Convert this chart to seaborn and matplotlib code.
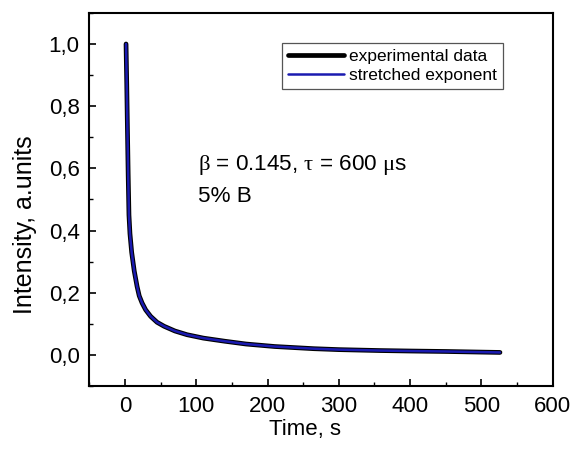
import matplotlib
matplotlib.use("Agg")
import matplotlib.pyplot as plt
import matplotlib.ticker as mticker
import seaborn as sns
import pandas as pd

time_s = [1.5, 2.5, 3.5, 4.5, 5.6, 7, 9.4, 13, 17, 20, 24, 29, 36, 45, 55, 70, 87,
          110, 140, 170, 210, 265, 300, 358, 400, 451, 500, 526]
experimental = [1.0, 0.87, 0.72, 0.58, 0.45, 0.39, 0.33, 0.27, 0.22, 0.19, 0.167, 0.145,
                0.124, 0.105, 0.092, 0.077, 0.065, 0.054, 0.044, 0.035, 0.027, 0.02,
                0.017, 0.014, 0.0125, 0.011, 0.009, 0.008]
stretched = [1.0, 0.87, 0.72, 0.58, 0.45, 0.39, 0.33, 0.27, 0.22, 0.19, 0.167, 0.145,
             0.124, 0.105, 0.092, 0.077, 0.065, 0.054, 0.044, 0.035, 0.027, 0.02,
             0.017, 0.014, 0.0125, 0.011, 0.009, 0.008]

sns.set_style("ticks")
plt.rcParams['font.family'] = ['Liberation Sans', 'DejaVu Sans']
plt.rcParams['text.color'] = 'black'
plt.rcParams['axes.labelcolor'] = 'black'
plt.rcParams['xtick.color'] = 'black'
plt.rcParams['ytick.color'] = 'black'
plt.rcParams['mathtext.fontset'] = 'custom'
plt.rcParams['mathtext.rm'] = 'Liberation Serif'
plt.rcParams['mathtext.it'] = 'Liberation Serif'
plt.rcParams['mathtext.bf'] = 'Liberation Serif'

df_exp = pd.DataFrame({"t": time_s, "I": experimental})
df_fit = pd.DataFrame({"t": time_s, "I": stretched})

fig = plt.figure(figsize=(5.7, 4.49), dpi=100)
ax = fig.add_axes([0.1567, 0.1403, 0.813, 0.831])

sns.lineplot(data=df_exp, x="t", y="I", ax=ax, color="black", lw=3.4,
             label="experimental data", sort=False)
sns.lineplot(data=df_fit, x="t", y="I", ax=ax, color="#1a1ab0", lw=1.8,
             label="stretched exponent", sort=False)

ax.set_xlim(-50, 600)
ax.set_ylim(-0.1, 1.1)
ax.xaxis.set_major_locator(mticker.MultipleLocator(100))
ax.xaxis.set_minor_locator(mticker.MultipleLocator(50))
ax.yaxis.set_major_locator(mticker.MultipleLocator(0.2))
ax.yaxis.set_minor_locator(mticker.MultipleLocator(0.1))
ax.yaxis.set_major_formatter(mticker.FuncFormatter(lambda v, p: f"{v:.1f}".replace(".", ",").replace("-0,0", "0,0")))
ax.tick_params(which="major", direction="in", length=5, width=1.2, labelsize=16, pad=7,
               colors="black")
ax.tick_params(which="minor", direction="in", length=3, width=1.0, colors="black")
for s in ax.spines.values():
    s.set_linewidth(1.5)
    s.set_color("black")

ax.set_xlabel("Time, s", fontsize=16)
ax.set_ylabel("Intensity, a.units", fontsize=18)
ax.xaxis.set_label_coords(0.4655, -0.088)
ax.yaxis.set_label_coords(-0.113, 0.432)

ax.text(102, 0.61, r"$\beta$ = 0.145, $\tau$ = 600 $\mu$s", fontsize=16.2, va="center", ha="left")
ax.text(102, 0.51, "5% B", fontsize=16.2, va="center", ha="left")

leg = ax.legend(loc="upper right", bbox_to_anchor=(0.893, 0.92), fontsize=12.5,
                frameon=True, fancybox=False, handlelength=3.2, handletextpad=0.3,
                borderpad=0.35, labelspacing=0.2, borderaxespad=0)
leg.get_frame().set_edgecolor("#555555")
leg.get_frame().set_linewidth(0.9)
leg.get_frame().set_alpha(1)
for t in leg.get_texts():
    t.set_color("black")

fig.savefig("out.png", dpi=100)
